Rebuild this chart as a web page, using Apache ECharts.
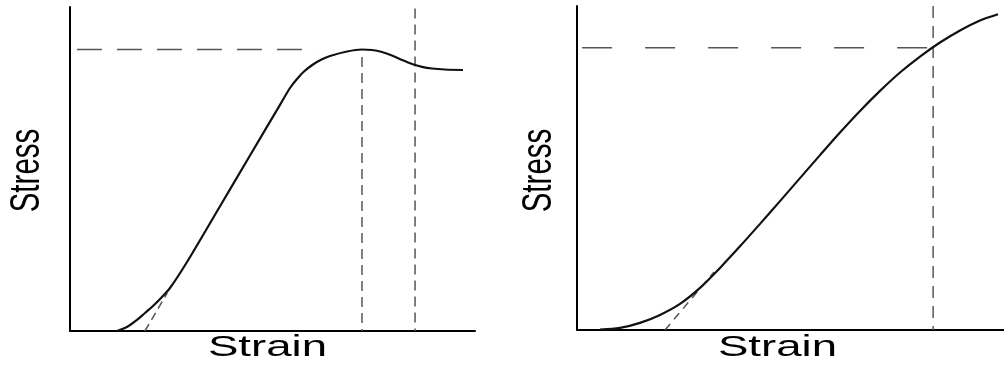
<!DOCTYPE html>
<html><head><meta charset="utf-8">
<script src="https://cdn.jsdelivr.net/npm/echarts@6/dist/echarts.min.js"></script>
<style>html,body{margin:0;padding:0;background:#fff}#c{width:1004px;height:367px}</style>
</head><body><div id="c"></div>
<script>
// Left panel: stress-strain curve with yield peak
const leftCurve = [
  [11.60,0],[14.07,1.23],[16.54,3.40],[18.52,5.56],[20.49,7.72],[22.47,10.19],
  [24.69,13.27],[28.89,21.30],[37.04,38.52],[44.44,54.17],[51.85,69.81],
  [54.32,75.00],[56.05,77.78],[57.78,80.09],[60.00,82.25],[62.22,83.86],
  [64.20,84.88],[68.40,86.27],[72.10,86.88],[74.57,86.73],[77.04,86.11],
  [79.51,85.03],[81.98,83.64],[84.44,82.41],[86.91,81.54],[89.38,81.02],
  [92.59,80.71],[97.04,80.56]
];
const leftPeakLevel = [[1.7,86.9],[61.0,86.9]];
const leftPeakStrain = [[72.1,84.6],[72.1,0]];
const leftSecondStrain = [[85.2,99.5],[85.2,0]];
const leftToe = [[18.5,0],[24.0,11.7]];

// Right panel: sigmoidal stress-strain curve
const rightCurve = [
  [5.39,0.15],[10.07,0.65],[14.75,2.19],[19.44,4.66],[24.12,8.06],[28.81,13.0],
  [33.49,19.17],[38.17,25.83],[42.86,32.75],[47.54,39.78],[52.22,46.88],
  [56.91,53.98],[61.59,60.96],[66.28,67.62],[70.96,73.80],[75.64,79.48],
  [80.33,84.41],[85.01,88.73],[89.70,92.44],[94.38,95.52],[98.59,97.44]
];
const rightLevel = [[1.2,87.1],[83.1,87.1]];
const rightStrain = [[83.4,100],[83.4,0]];
const rightToe = [[20.6,0],[32.1,17.9]];

const xTitle = 'Strain';
const yTitle = 'Stress';

const chart = echarts.init(document.getElementById('c'), null, {renderer:'canvas'});
const axisBase = {
  type:'value', min:0, max:100,
  axisLine:{show:true, lineStyle:{color:'#000', width:2}},
  axisTick:{show:false}, axisLabel:{show:false}, splitLine:{show:false}
};
function curve(data, xi){
  return {type:'line', xAxisIndex:xi, yAxisIndex:xi, data:data, showSymbol:false,
    smooth:0.3, lineStyle:{color:'#111', width:2.2}, silent:true, z:3};
}
function dash(data, xi, pattern){
  return {type:'line', xAxisIndex:xi, yAxisIndex:xi, data:data, showSymbol:false,
    lineStyle:{color:'#555', width:1.5, type:pattern}, silent:true, z:2};
}
const fontFamily = 'Liberation Sans, Arial, Helvetica, sans-serif';
function label(text, x, y, rot, sx, sy){
  return {type:'text', x:x, y:y, rotation:rot, scaleX:sx, scaleY:sy,
    style:{text:text, fontSize:29.5, fontFamily:fontFamily, fill:'#000',
      align:'center', verticalAlign:'middle'}};
}
chart.setOption({
  animation:false,
  backgroundColor:'#fff',
  grid:[
    {left:70, top:7, width:405, height:324},
    {left:577, top:6, width:427, height:324}
  ],
  xAxis:[Object.assign({gridIndex:0}, axisBase), Object.assign({gridIndex:1}, axisBase)],
  yAxis:[Object.assign({gridIndex:0}, axisBase), Object.assign({gridIndex:1}, axisBase)],
  series:[
    curve(leftCurve, 0),
    dash(leftPeakLevel, 0, [25,15]),
    dash(leftPeakStrain, 0, [10,6]),
    dash(leftSecondStrain, 0, [10,6]),
    dash(leftToe, 0, [8,5]),
    curve(rightCurve, 1),
    dash(rightLevel, 1, [30,33]),
    dash(rightStrain, 1, [12,8]),
    dash(rightToe, 1, [8,6])
  ],
  graphic:[
    label(yTitle, 27.5, 170.5, Math.PI/2, 1, 1.47),
    label(xTitle, 267.5, 347.5, 0, 1.545, 1),
    label(yTitle, 539, 170.5, Math.PI/2, 1, 1.47),
    label(xTitle, 777.5, 347.5, 0, 1.545, 1)
  ]
});
</script>
</body></html>
